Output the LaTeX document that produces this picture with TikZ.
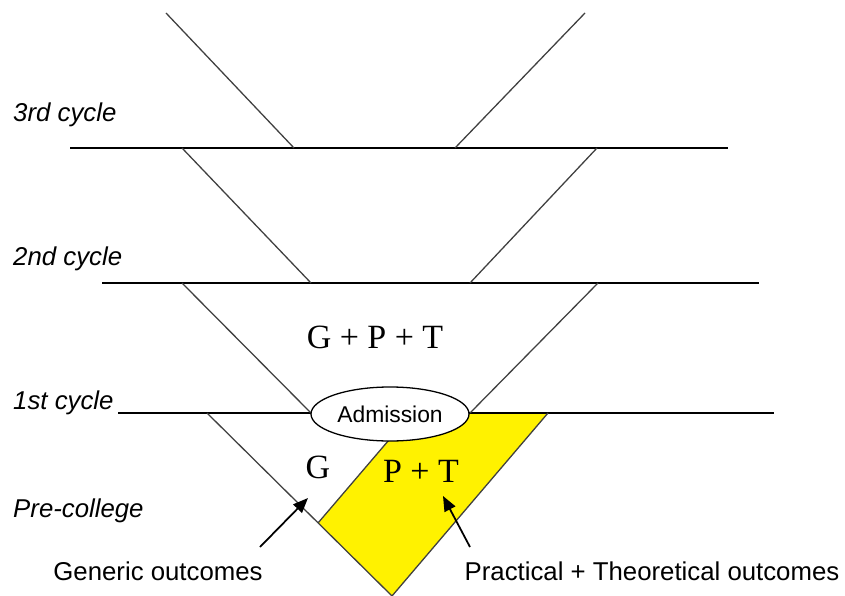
\documentclass[tikz,border=0pt]{standalone}
\usepackage{fontspec}
\setmainfont{Liberation Sans}
\newfontfamily\sumfont{Liberation Serif}
\usepackage{tikz}
\usetikzlibrary{arrows.meta, shapes.geometric}

\begin{document}
\begin{tikzpicture}[
  x=0.03cm, y=-0.03cm,
  level/.style={line width=1.6pt, black},
  slant/.style={line width=1.1pt, black!75},
  cyclelbl/.style={anchor=base west, inner sep=0, font=\fontsize{22}{26}\selectfont\itshape},
  outlbl/.style={anchor=base, inner sep=0, font=\fontsize{22}{26}\selectfont},
  sumlbl/.style={inner sep=0, font=\sumfont\fontsize{29}{34}\selectfont},
  gate/.style={draw, ellipse, fill=white, line width=1.1pt, inner sep=0,
    minimum width=4.74cm, minimum height=1.62cm, font=\fontsize{19.5}{23}\selectfont},
  pointer/.style={-{Triangle[length=0.45cm, width=0.36cm]}, line width=1.5pt}
]
\useasboundingbox (0,0) rectangle (845,596);

% practical + theoretical strip
\fill[yellow] (412,413) -- (548,413) -- (392,596) -- (318,523) -- cycle;

% levels
\draw[level] (70,148) -- (728,148);
\draw[level] (102,283) -- (759,283);
\draw[level] (118,413) -- (774,413);

% funnel sides
\draw[slant] (166,13) -- (294,148);
\draw[slant] (585,13) -- (455,148);
\draw[slant] (182,148) -- (311,283);
\draw[slant] (597,148) -- (470,283);
\draw[slant] (182,283) -- (311,413);
\draw[slant] (598,283) -- (470,413);
\draw[slant] (207,413) -- (392,596) -- (548,413);
\draw[slant] (412,413) -- (318,523);

\node[gate] (adm) at (390,414) {Admission};

\node[cyclelbl] (c3) at (13,122) {3rd cycle};
\node[cyclelbl] (c2) at (13,265) {2nd cycle};
\node[cyclelbl] (c1) at (13,409) {1st cycle};
\node[cyclelbl] (pre) at (13,517) {Pre-college};

\node[sumlbl] (gpt) at (375,337) {G + P + T};
\node[sumlbl] (g) at (318,467) {G};
\node[sumlbl] (pt) at (421,471) {P + T};

\node[outlbl] (gen) at (158,580) {Generic outcomes};
\node[outlbl] (prac) at (652,580) {Practical + Theoretical outcomes};

\coordinate (gtail) at (260,547);
\coordinate (gtip) at (308,498);
\coordinate (ptail) at (470,547);
\coordinate (ptip) at (443,496);
\draw[pointer] (gtail) -- (gtip);
\draw[pointer] (ptail) -- (ptip);
\end{tikzpicture}
\end{document}
